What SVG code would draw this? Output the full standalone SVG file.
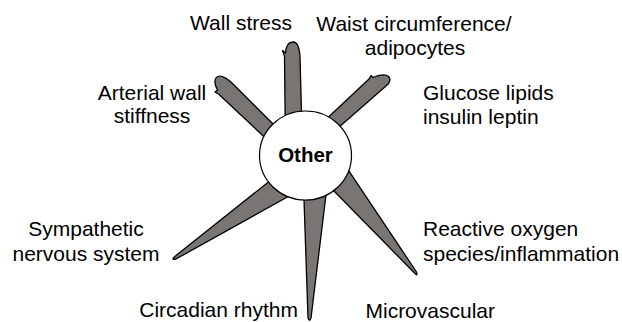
<svg xmlns="http://www.w3.org/2000/svg" width="622" height="322" viewBox="0 0 622 322">
<style>
.spike{fill:#787573;stroke:#000;stroke-width:1.3;stroke-linejoin:round}
.lbl{font-family:"Liberation Sans",Arial,sans-serif;font-size:21px;fill:#000}
.mid{text-anchor:middle}
.end{text-anchor:end}
.hub{fill:#fff;stroke:#000;stroke-width:1.2}
.hubtxt{font-family:"Liberation Sans",Arial,sans-serif;font-size:20.5px;font-weight:bold;text-anchor:middle;fill:#000}
</style>
<rect width="622" height="322" fill="#fff"/>
<g id="connectors">
<path class="spike" d="M 285.5 150 L 284.5 56 L 282.5 50.5 L 285.5 53 C 286 46 289 42 293 42 C 297 42 299.5 47 300 57 L 302.5 150 Z"/>
<path class="spike" d="M 276 148 L 218.5 94 L 215 92 L 217.5 90 C 214 84 214 78 218 76.5 C 222 75 228 79 234 85 L 287 138 Z"/>
<path class="spike" d="M 320 125 L 369 79 L 371 75.5 L 373 77.5 C 378 75 384 74 388 76 C 391 78 390.5 83 386 86 L 330 135 Z"/>
<path class="spike" d="M 281 172 L 176 255.5 Q 170 260.5 176 259 L 300 190 Z"/>
<path class="spike" d="M 303 170 L 308 318 Q 309.5 322.5 311 318 L 329 170 Z"/>
<path class="spike" d="M 322.7 179.5 L 414.5 273 Q 418 277 416.5 272 L 336.6 152.6 Z"/>
</g>
<g id="node-other">
<ellipse class="hub" cx="305.5" cy="155.5" rx="46" ry="44.5"/>
<text class="hubtxt" x="305.5" y="162">Other</text>
</g>
<g id="node-wall-stress"><text class="lbl mid" x="241" y="30">Wall stress</text></g>
<g id="node-waist"><text class="lbl mid" x="414" y="31">Waist circumference/</text><text class="lbl mid" x="415" y="55">adipocytes</text></g>
<g id="node-arterial"><text class="lbl mid" x="152" y="100">Arterial wall</text><text class="lbl mid" x="152" y="123">stiffness</text></g>
<g id="node-glucose"><text class="lbl" x="423" y="100">Glucose lipids</text><text class="lbl" x="423" y="124">insulin leptin</text></g>
<g id="node-ros"><text class="lbl" x="423" y="236">Reactive oxygen</text><text class="lbl" x="423" y="261">species/inflammation</text></g>
<g id="node-sympathetic"><text class="lbl mid" x="86" y="236">Sympathetic</text><text class="lbl mid" x="86" y="261">nervous system</text></g>
<g id="node-circadian"><text class="lbl end" x="298" y="317">Circadian rhythm</text></g>
<g id="node-microvascular"><text class="lbl end" x="495" y="318">Microvascular</text></g>
</svg>
